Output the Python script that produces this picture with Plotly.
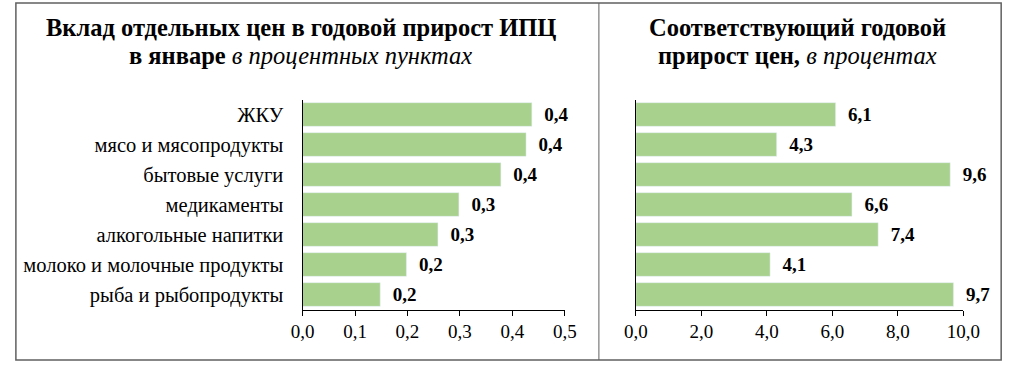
import plotly.graph_objects as go

categories = ["ЖКУ", "мясо и мясопродукты", "бытовые услуги", "медикаменты",
              "алкогольные напитки", "молоко и молочные продукты", "рыба и рыбопродукты"]
contribution = [0.437, 0.426, 0.378, 0.298, 0.258, 0.198, 0.148]
contribution_labels = ["0,4", "0,4", "0,4", "0,3", "0,3", "0,2", "0,2"]
growth = [6.1, 4.3, 9.6, 6.6, 7.4, 4.1, 9.7]
growth_labels = ["6,1", "4,3", "9,6", "6,6", "7,4", "4,1", "9,7"]
left_ticks = [0.0, 0.1, 0.2, 0.3, 0.4, 0.5]
right_ticks = [0.0, 2.0, 4.0, 6.0, 8.0, 10.0]

W, H = 1024, 366
GREEN = "#a9d18e"
FONT = "'Liberation Serif', 'Times New Roman', 'DejaVu Serif', serif"
PAD = "\u00a0\u00a0"

def px(x):
    return x / W

def py(y):
    return 1 - y / H

fig = go.Figure()
fig.add_trace(go.Bar(
    y=categories, x=contribution, orientation="h", marker_color=GREEN,
    text=[PAD + t for t in contribution_labels], textposition="outside",
    textfont=dict(family=FONT, size=19, color="black", weight="bold"),
    cliponaxis=False, width=0.79, xaxis="x", yaxis="y", showlegend=False))
fig.add_trace(go.Bar(
    y=categories, x=growth, orientation="h", marker_color=GREEN,
    text=[PAD + t for t in growth_labels], textposition="outside",
    textfont=dict(family=FONT, size=19, color="black", weight="bold"),
    cliponaxis=False, width=0.79, xaxis="x2", yaxis="y2", showlegend=False))

ydom = [py(309.5), py(99.5)]
axis_common = dict(showgrid=False, zeroline=False, ticks="outside", ticklen=5,
                   tickcolor="black", linecolor="black", linewidth=1.2, showline=True,
                   tickfont=dict(family=FONT, size=19, color="black"), tickformat=".1f")

def title(x, y, text):
    return dict(xref="paper", yref="paper", x=px(x), y=py(y), xanchor="center",
                yanchor="middle", showarrow=False, text=text,
                font=dict(family=FONT, size=24.5, color="black"))

fig.update_layout(
    width=W, height=H, margin=dict(l=0, r=0, t=0, b=0),
    font=dict(family=FONT, color="black"),
    paper_bgcolor="white", plot_bgcolor="white", separators=", ",
    bargap=0.2,
    xaxis=dict(domain=[px(299), px(569)], range=[0, 0.5], tickvals=left_ticks,
               anchor="y", **axis_common),
    yaxis=dict(domain=ydom, autorange="reversed", showline=True, linecolor="black",
               linewidth=1.2, ticks="", showgrid=False, anchor="x",
               tickfont=dict(family=FONT, size=20.5, color="black"), ticklabelstandoff=14),
    xaxis2=dict(domain=[px(642), px(979)], range=[0, 10], tickvals=right_ticks,
                anchor="y2", **axis_common),
    yaxis2=dict(domain=ydom, autorange="reversed", showline=True, linecolor="black",
                linewidth=1.2, ticks="", showticklabels=False, showgrid=False, anchor="x2"),
    shapes=[
        dict(type="rect", xref="paper", yref="paper", x0=px(4), x1=px(1018),
             y0=py(360), y1=py(3), line=dict(color="#606060", width=1.5)),
        dict(type="line", xref="paper", yref="paper", x0=px(604), x1=px(604),
             y0=py(360), y1=py(3), line=dict(color="#606060", width=1)),
    ],
    annotations=[
        title(297, 28, "<b>Вклад отдельных цен в годовой прирост ИПЦ</b>"),
        title(297, 55, "<b>в январе</b> <i>в процентных пунктах</i>"),
        title(808, 28, "<b>Соответствующий годовой</b>"),
        title(808, 55, "<b>прирост цен,</b> <i>в процентах</i>"),
    ],
)

fig.write_html("out.html", config={"displayModeBar": False},
               post_script="document.documentElement.style.margin='0';"
                           "document.documentElement.style.overflow='hidden';"
                           "document.body.style.margin='0';document.body.style.padding='0';"
                           "document.body.style.overflow='hidden';")
